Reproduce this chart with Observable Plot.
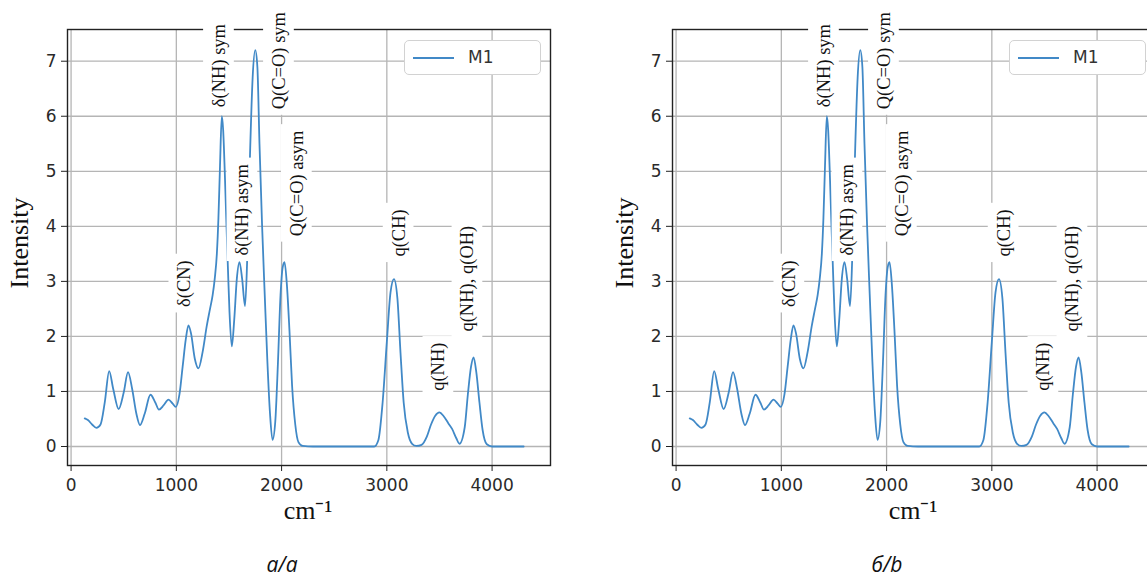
<!DOCTYPE html>
<html>
<head>
<meta charset="utf-8">
<script src="https://cdn.jsdelivr.net/npm/d3@7"></script>
<script src="https://cdn.jsdelivr.net/npm/@observablehq/plot@0.6"></script>
<style>
  html, body { margin: 0; padding: 0; background: #fff; overflow: hidden; }
  #page { position: relative; width: 1147px; height: 577px; overflow: hidden; background: #fff; }
  .panel { position: absolute; top: 0; width: 580px; height: 577px; }
  .panel svg { position: absolute; left: 0; top: 0; overflow: visible; }
  .legend { position: absolute; left: 404px; top: 40px; width: 135px; height: 33px;
            border: 1px solid #d2d2d2; border-radius: 5px; background: #fff; }
  .legend .swatch { position: absolute; left: 8px; top: 16px; width: 41px; height: 2px; background: #4189c7; }
  .legend .name { position: absolute; left: 63px; top: 6px; font: 17px "DejaVu Sans", sans-serif; color: #333; }
  .caption { position: absolute; top: 550px; left: 232px; width: 100px; text-align: center;
             font: italic 21px "Open Sans", sans-serif; color: #111; }
</style>
</head>
<body>
<div id="page"></div>
<script>
// ---- data ----
const wavenumber = [130, 160, 200, 240, 280, 320, 362, 400, 452, 500, 541, 580, 620, 655, 700, 754, 800, 835, 880, 925, 965, 995,
  1030, 1060, 1090, 1115, 1140, 1175, 1210, 1250, 1290, 1320, 1345, 1365, 1385, 1400, 1415, 1432, 1445, 1460, 1475, 1490, 1505, 1527,
  1550, 1575, 1600, 1625, 1653, 1675, 1700, 1725, 1750, 1770, 1790, 1815, 1840, 1865, 1890, 1914, 1940, 1965, 1990, 2010, 2028,
  2050, 2075, 2100, 2130, 2160, 2200, 2300, 2880, 2920, 2960, 3000, 3035, 3068, 3100, 3130, 3160, 3200, 3240, 3280, 3330, 3380,
  3420, 3460, 3500, 3540, 3585, 3620, 3660, 3690, 3740, 3770, 3800, 3824, 3850, 3880, 3910, 3950, 4000, 4300];
const intensity = [0.51, 0.48, 0.40, 0.34, 0.40, 0.80, 1.37, 1.05, 0.68, 0.98, 1.35, 1.05, 0.60, 0.39, 0.60, 0.94, 0.80, 0.67, 0.75, 0.85, 0.78, 0.72,
  0.95, 1.45, 1.95, 2.20, 2.05, 1.60, 1.42, 1.72, 2.20, 2.50, 2.75, 3.05, 3.50, 4.15, 5.10, 6.00, 5.75, 5.00, 4.10, 3.25, 2.45, 1.82,
  2.30, 3.05, 3.35, 3.05, 2.55, 3.50, 5.30, 6.70, 7.20, 6.90, 5.50, 4.00, 2.75, 1.55, 0.60, 0.12, 0.45, 1.50, 2.75, 3.25, 3.35,
  2.95, 2.10, 1.10, 0.40, 0.08, 0.01, 0.00, 0.00, 0.12, 0.80, 1.90, 2.80, 3.04, 2.70, 1.70, 0.80, 0.25, 0.05, 0.01, 0.03, 0.18,
  0.40, 0.56, 0.62, 0.55, 0.42, 0.32, 0.15, 0.05, 0.35, 0.95, 1.45, 1.62, 1.35, 0.80, 0.30, 0.04, 0.00, 0.00];

const labelText = ["δ(CN)", "δ(NH) sym", "δ(NH) asym", "Q(C=O) sym", "Q(C=O) asym", "q(CH)", "q(NH)", "q(NH), q(OH)"];
const labelX = [1076, 1405, 1628, 1975, 2145, 3112, 3490, 3766];
const labelY = [2.96, 6.92, 4.30, 7.01, 4.78, 3.88, 1.45, 3.05];

const xTicks = [0, 1000, 2000, 3000, 4000];
const yTicks = [0, 1, 2, 3, 4, 5, 6, 7];
const seriesName = "M1";
const panelCaptions = ["а/a", "б/b"];
const xTitle = "cm⁻¹";
const yTitle = "Intensity";

// ---- drawing ----
const LF = 18.5;          // annotation font size
const padAlong = 6, padPerp = 5;

function makePanel() {
  const W = 580, H = 540, ml = 67, mr = W - 550, mt = 29, mb = H - 465;
  const xDom = [-34, 4555], yDom = [-0.345, 7.576];
  const kx = (W - ml - mr) / (xDom[1] - xDom[0]);
  const ky = (H - mt - mb) / (yDom[1] - yDom[0]);
  const ctx = document.createElement("canvas").getContext("2d");
  ctx.font = `${LF}px "Liberation Serif"`;
  const labels = labelText.map((t, i) => {
    const L = ctx.measureText(t).width;
    const hw = (LF * 0.56 + padPerp) / kx;
    const hh = (L / 2 + padAlong) / ky;
    return {t, x: labelX[i], y: labelY[i], x1: labelX[i] - hw, x2: labelX[i] + hw, y1: labelY[i] - hh, y2: labelY[i] + hh};
  });
  const spectrum = wavenumber.map((w, i) => ({w, v: intensity[i]}));
  const gridStyle = {stroke: "#b5b5b5", strokeOpacity: 1, strokeWidth: 1.3};
  return Plot.plot({
    width: W, height: H,
    marginLeft: ml, marginRight: mr, marginTop: mt, marginBottom: mb,
    x: {domain: xDom},
    y: {domain: yDom},
    style: {fontFamily: "DejaVu Sans, sans-serif", fontSize: "17px", color: "#2a2a2a", background: "transparent"},
    marks: [
      Plot.gridX(xTicks, gridStyle),
      Plot.gridY(yTicks, gridStyle),
      Plot.frame({stroke: "#222", strokeWidth: 1.4}),
      Plot.axisX(xTicks, {tickSize: 6, tickPadding: 7, label: null, tickFormat: d => String(d), fontSize: 17, stroke: "#222", fill: "#2a2a2a"}),
      Plot.axisY(yTicks, {tickSize: 6, tickPadding: 5, label: null, tickFormat: d => String(d), fontSize: 17, stroke: "#222", fill: "#2a2a2a"}),
      Plot.line(spectrum, {x: "w", y: "v", stroke: "#4189c7", strokeWidth: 1.8, curve: "monotone-x"}),
      Plot.rect(labels, {x1: "x1", x2: "x2", y1: "y1", y2: "y2", fill: "white"}),
      Plot.text(labels, {x: "x", y: "y", text: "t", rotate: -90, fontFamily: "Liberation Serif, serif", fontSize: LF, fill: "#111"}),
      Plot.text([yTitle], {text: d => d, frameAnchor: "left", dx: -48, dy: 41, rotate: -90,
        fontFamily: "Liberation Serif, serif", fontSize: 26, fill: "#111"}),
      Plot.text([xTitle], {text: d => d, frameAnchor: "bottom", dx: -1, dy: 53,
        fontFamily: "Liberation Serif, serif", fontSize: 26, fill: "#111"})
    ]
  });
}

const page = document.getElementById("page");
[0, 605].forEach((left, i) => {
  const div = document.createElement("div");
  div.className = "panel";
  div.style.left = left + "px";
  div.appendChild(makePanel());
  const lg = document.createElement("div");
  lg.className = "legend";
  lg.innerHTML = `<div class="swatch"></div><div class="name">${seriesName}</div>`;
  div.appendChild(lg);
  const cap = document.createElement("div");
  cap.className = "caption";
  cap.textContent = panelCaptions[i];
  div.appendChild(cap);
  page.appendChild(div);
});
</script>
</body>
</html>
